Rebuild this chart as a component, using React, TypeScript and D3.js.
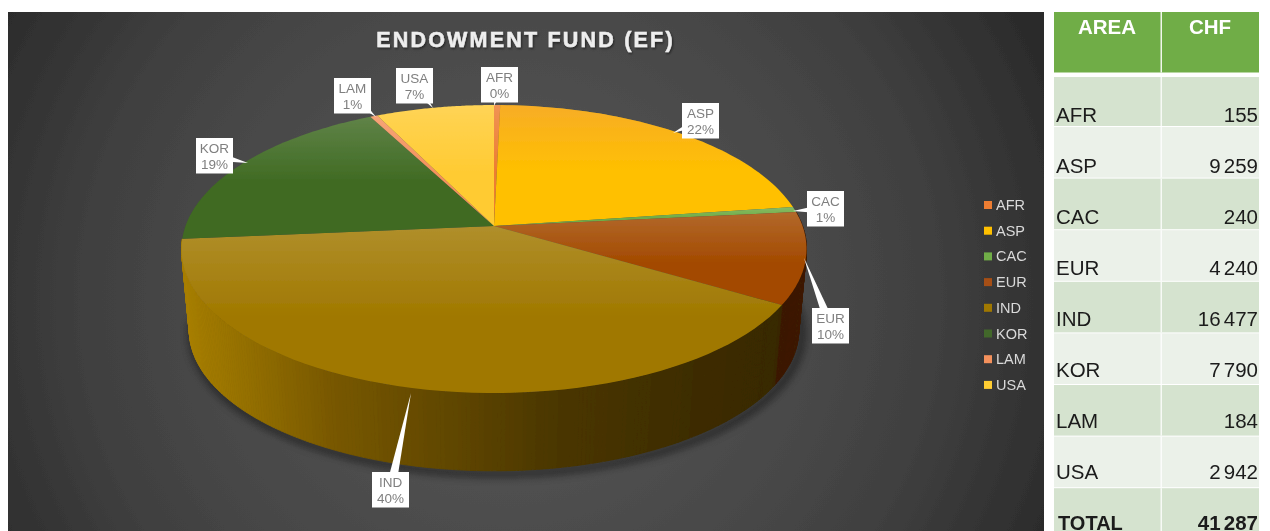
import React from "react";
import * as d3 from "d3";

const areas = ["AFR", "ASP", "CAC", "EUR", "IND", "KOR", "LAM", "USA"];
const chf = [155, 9259, 240, 4240, 16477, 7790, 184, 2942];
const percentLabels = ["0%", "22%", "1%", "10%", "40%", "19%", "1%", "7%"];
const topColors = ["#ED7D31", "#FFC000", "#70AD47", "#A34A00", "#A07800", "#3F6A22", "#F4915B", "#FFCB33"];
const legendColors = ["#ED7D31", "#FFC000", "#70AD47", "#A64F14", "#A07800", "#43682B", "#F4915B", "#FFCD33"];
const chfLabels = ["155", "9 259", "240", "4 240", "16 477", "7 790", "184", "2 942"];
const totalLabel = "41 287";
// callout: box left, box top, tip x, tip y
const callouts = [
  [481, 67, 494, 106], [682, 103, 673, 133], [807, 191, 793, 211], [812, 308, 804, 258],
  [372, 472, 411, 393], [196, 138, 248, 163], [334, 78, 376, 117], [396, 68, 433, 108],
];
const wallStops: Record<string, [number[], string[]]> = {
  EUR: [[770, 810], ["#3a1800", "#3d1a02"]],
  IND: [[181, 260, 330, 420, 560, 700, 790], ["#a87f05", "#8f6b00", "#785800", "#664b00", "#4a3600", "#3d2c00", "#382800"]],
};

const cx = 494, cy = 226, A = 308.5, B = 140.3, k = 0.16;
const project = (a: number, r = 1, drop = 0, shrink = 1) => {
  const u = Math.sin(a) * r, v = -Math.cos(a) * r, w = 1 - k * v;
  return [cx + (A * shrink * u) / w, cy + (B * shrink * v) / w + drop] as [number, number];
};
const bottom = (a: number) => project(a, 1, 82, 0.975);

const pieGen = d3.pie<number>().sort(null)(chf);
const line = d3.line();

function wedge(s: number, e: number) {
  const pts: [number, number][] = [[cx, cy]];
  d3.range(0, 61).forEach((i) => pts.push(project(s + ((e - s) * i) / 60)));
  return line(pts) + "Z";
}

export default function App() {
  const walls: React.ReactNode[] = [];
  pieGen.forEach((p, i) => {
    const name = areas[i];
    const stops = wallStops[name];
    if (!stops) return;
    const col = d3.scaleLinear<string>().domain(stops[0]).range(stops[1]).clamp(true);
    const n = Math.max(4, Math.round((p.endAngle - p.startAngle) / 0.012));
    d3.range(n).forEach((j) => {
      const a0 = p.startAngle + ((p.endAngle - p.startAngle) * j) / n;
      const a1 = p.startAngle + ((p.endAngle - p.startAngle) * (j + 1)) / n;
      const q = [project(a0), project(a1), bottom(a1), bottom(a0)] as [number, number][];
      const c = col((q[0][0] + q[1][0]) / 2);
      walls.push(<path key={name + j} d={line(q) + "Z"} fill={c} stroke={c} strokeWidth={0.8} />);
    });
  });
  const shadowArc = d3.range(0, 121).map((i) => {
    const a = pieGen[3].startAngle + (i / 120) * (pieGen[4].endAngle - pieGen[3].startAngle);
    return bottom(a);
  });
  const rowBottom = (i: number) => 126 + i * 51.6;
  const baseline = (i: number) => 122 + i * 51;
  const font = "'Liberation Sans', Arial, sans-serif";
  return (
    <svg width={1270} height={531} style={{ position: "absolute", left: 0, top: 0, background: "#fff" }} fontFamily={font}>
      <defs>
        <radialGradient id="bg" gradientUnits="userSpaceOnUse" cx={510} cy={300} r={650}>
          <stop offset="0" stopColor="#5a5a5a" />
          <stop offset="0.4" stopColor="#4b4b4b" />
          <stop offset="0.65" stopColor="#404040" />
          <stop offset="0.9" stopColor="#2b2b2b" />
          <stop offset="1" stopColor="#262626" />
        </radialGradient>
        <linearGradient id="gloss" x1="0" y1="0" x2="0" y2="1">
          <stop offset="0" stopColor="#fff" stopOpacity={0.17} />
          <stop offset="0.55" stopColor="#fff" stopOpacity={0} />
        </linearGradient>
        <linearGradient id="glossAsp" x1="0" y1="0" x2="0" y2="1">
          <stop offset="0" stopColor="#F2A040" stopOpacity={0.6} />
          <stop offset="0.55" stopColor="#F2A040" stopOpacity={0} />
        </linearGradient>
        <filter id="sh" x="-10%" y="-20%" width="120%" height="140%"><feGaussianBlur stdDeviation="4" /></filter>
        <filter id="soft" x="0" y="0" width="100%" height="100%"><feGaussianBlur stdDeviation="0.45" /></filter>
        <filter id="ts" x="-5%" y="-20%" width="110%" height="150%"><feDropShadow dx="1" dy="1.5" stdDeviation="1" floodColor="#000" floodOpacity="0.5" /></filter>
      </defs>
      <g filter="url(#soft)">
        <rect x={8} y={12} width={1036} height={519} fill="url(#bg)" />
        <path d={line(shadowArc) + "Z"} fill="none" stroke="#000" strokeWidth={6} opacity={0.6} transform="translate(3 3)" filter="url(#sh)" />
        {walls}
        {pieGen.map((p, i) => (
          <g key={areas[i]}>
            <path d={wedge(p.startAngle, p.endAngle)} fill={topColors[i]} />
            <path d={wedge(p.startAngle, p.endAngle)} fill={areas[i] === "ASP" ? "url(#glossAsp)" : "url(#gloss)"} />
          </g>
        ))}
        <text x={525.5} y={46.5} textAnchor="middle" fontSize={21.5} fontWeight="bold" fill="#EEEEEE" stroke="#EEEEEE" strokeWidth={0.5} letterSpacing={2.2} filter="url(#ts)">
          ENDOWMENT FUND (EF)
        </text>
        {callouts.map((c, i) => {
          const [bx, by, tx, ty] = c;
          const w = 37, h = 35.5;
          const mx = bx + w / 2, my = by + h / 2;
          const dx = tx - mx, dy = ty - my;
          const len = Math.hypot(dx, dy);
          const nx = (-dy / len) * 5, ny = (dx / len) * 5;
          return (
            <g key={areas[i]}>
              <path d={line([[mx + nx, my + ny], [tx, ty], [mx - nx, my - ny]]) + "Z"} fill="#fff" />
              <rect x={bx} y={by} width={w} height={h} fill="#fff" />
              <text x={mx} y={by + 15} textAnchor="middle" fontSize={13.5} fill="#7F7F7F">{areas[i]}</text>
              <text x={mx} y={by + 30.5} textAnchor="middle" fontSize={13.5} fill="#7F7F7F">{percentLabels[i]}</text>
            </g>
          );
        })}
        {areas.map((a, i) => {
          const y = 205 + i * 25.7;
          return (
            <g key={a}>
              <rect x={984} y={y - 4} width={8} height={8} fill={legendColors[i]} />
              <text x={996} y={y + 5} fontSize={14.5} fill="#D9D9D9">{a}</text>
            </g>
          );
        })}
        <rect x={1054} y={12} width={205} height={60.5} fill="#70AD47" />
        <rect x={1160.5} y={12} width={1.5} height={60.5} fill="#fff" opacity={0.9} />
        <text x={1107} y={34} textAnchor="middle" fontSize={20.5} fontWeight="bold" fill="#fff">AREA</text>
        <text x={1210} y={34} textAnchor="middle" fontSize={20.5} fontWeight="bold" fill="#fff">CHF</text>
        {[...areas, "TOTAL"].map((a, i) => {
          const isTotal = i === areas.length;
          const y1 = rowBottom(i);
          const y0 = i === 0 ? 77 : rowBottom(i - 1) + 1;
          const weight = isTotal ? "bold" : "normal";
          return (
            <g key={a}>
              <rect x={1054} y={y0} width={205} height={y1 - y0} fill={i % 2 === 0 ? "#D5E3CF" : "#EBF1E9"} />
              <rect x={1160.5} y={y0} width={1.5} height={y1 - y0} fill="#fff" opacity={0.8} />
              <text x={1056} dx={isTotal ? 2 : 0} y={baseline(i)} fontSize={isTotal ? 20 : 20.5} fontWeight={weight} fill="#1a1a1a">{a}</text>
              <text x={1258} y={baseline(i)} textAnchor="end" fontSize={20.5} fontWeight={weight} fill="#1a1a1a" wordSpacing={-2.5}>
                {isTotal ? totalLabel : chfLabels[i]}
              </text>
            </g>
          );
        })}
      </g>
    </svg>
  );
}
